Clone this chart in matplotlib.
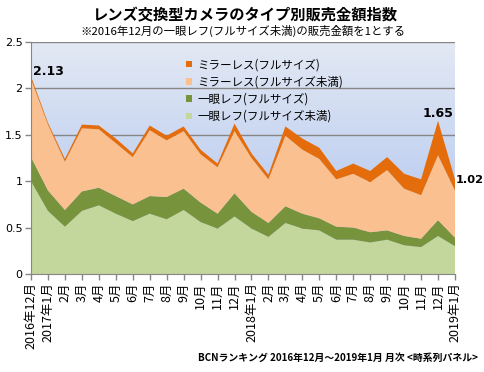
import numpy as np
import matplotlib
matplotlib.use('Agg')
import matplotlib.pyplot as plt
from matplotlib.colors import LinearSegmentedColormap

plt.rcParams['font.family'] = ['Noto Sans CJK JP', 'DejaVu Sans']

# months 2016/12 .. 2019/1
months = ['2016年12月', '2017年1月', '2月', '3月', '4月', '5月', '6月', '7月', '8月', '9月',
          '10月', '11月', '12月', '2018年1月', '2月', '3月', '4月', '5月', '6月', '7月',
          '8月', '9月', '10月', '11月', '12月', '2019年1月']

# index values (stack order bottom -> top)
dslr_small = [1.00, 0.68, 0.51, 0.68, 0.74, 0.65, 0.57, 0.65, 0.59, 0.69, 0.56, 0.49, 0.62,
              0.49, 0.40, 0.55, 0.49, 0.47, 0.37, 0.37, 0.34, 0.37, 0.31, 0.29, 0.41, 0.30]
dslr_full = [0.26, 0.22, 0.18, 0.21, 0.19, 0.19, 0.18, 0.19, 0.24, 0.23, 0.21, 0.16, 0.25,
             0.18, 0.15, 0.18, 0.16, 0.13, 0.14, 0.13, 0.11, 0.10, 0.10, 0.09, 0.17, 0.09]
ml_small = [0.84, 0.71, 0.52, 0.68, 0.63, 0.57, 0.51, 0.71, 0.61, 0.62, 0.52, 0.50, 0.67,
            0.58, 0.47, 0.76, 0.69, 0.64, 0.51, 0.58, 0.54, 0.65, 0.51, 0.47, 0.70, 0.51]
ml_full = [0.03, 0.02, 0.03, 0.04, 0.04, 0.05, 0.04, 0.05, 0.05, 0.05, 0.05, 0.04, 0.08,
           0.05, 0.05, 0.10, 0.12, 0.12, 0.09, 0.11, 0.12, 0.14, 0.16, 0.17, 0.37, 0.12]

names = ['一眼レフ(フルサイズ未満)', '一眼レフ(フルサイズ)',
         'ミラーレス(フルサイズ未満)', 'ミラーレス(フルサイズ)']
colors = ['#c3d69b', '#77933c', '#fac090', '#e46c0a']

x = np.arange(len(months))
total = np.array(dslr_small) + np.array(dslr_full) + np.array(ml_small) + np.array(ml_full)

fig = plt.figure(figsize=(4.85, 3.72), dpi=100)
ax = fig.add_axes([31 / 485, 1 - 274 / 372, 424 / 485, 232 / 372])

# gradient background
cmap = LinearSegmentedColormap.from_list('bg', ['#a9c0ee', '#e3e9f4'])
grad = np.linspace(0, 1, 256).reshape(-1, 1)
ax.imshow(grad, cmap=cmap, aspect='auto', origin='lower',
          extent=[0, len(months) - 1, 0, 2.5], zorder=0)

for v in [0.5, 1.0, 1.5, 2.0, 2.5]:
    ax.axhline(v, color='#868686', lw=1, zorder=1)

polys = ax.stackplot(x, dslr_small, dslr_full, ml_small, ml_full,
                     colors=colors, labels=names, zorder=2, lw=0)

ax.set_xlim(0, len(months) - 1)
ax.set_ylim(0, 2.5)
ax.set_yticks([0, 0.5, 1, 1.5, 2, 2.5])
ax.set_yticklabels(['0', '0.5', '1', '1.5', '2', '2.5'], family='DejaVu Sans', fontsize=8)
ax.set_xticks(x)
ax.set_xticklabels(months, rotation=90, fontsize=9, va='top')
ax.tick_params(axis='both', color='#868686', length=4, width=1, pad=2)
for s in ['top', 'right']:
    ax.spines[s].set_visible(False)
for s in ['left', 'bottom']:
    ax.spines[s].set_color('#868686')

# value labels
ax.text(0.1, total[0] + 0.05, '%.2f' % total[0], fontsize=9, fontweight='bold',
        family='DejaVu Sans', va='center')
ax.text(24, total[24] + 0.08, '%.2f' % total[24], fontsize=9, fontweight='bold',
        family='DejaVu Sans', ha='center', va='center')
ax.text(25.04, total[25] - 0.01, '%.2f' % total[25], fontsize=8.2, fontweight='bold',
        family='DejaVu Sans', va='center', clip_on=False)

h, l = ax.get_legend_handles_labels()
leg = ax.legend(h[::-1], l[::-1], loc='upper left', bbox_to_anchor=(0.355, 0.95),
                frameon=False, fontsize=8.3, handlelength=0.5, handleheight=0.5,
                handletextpad=0.5, labelspacing=0.37, borderaxespad=0)

fig.text(245 / 485, 1 - 15 / 372, 'レンズ交換型カメラのタイプ別販売金額指数',
         ha='center', va='center', fontsize=11, fontweight='bold')
fig.text(243 / 485, 1 - 31 / 372, '※2016年12月の一眼レフ(フルサイズ未満)の販売金額を1とする',
         ha='center', va='center', fontsize=8.2)
fig.text(478 / 485, 1 - 358 / 372, 'BCNランキング 2016年12月～2019年1月 月次 <時系列パネル>',
         ha='right', va='center', fontsize=7.1, fontweight='bold')

fig.savefig('out.png', dpi=100)
